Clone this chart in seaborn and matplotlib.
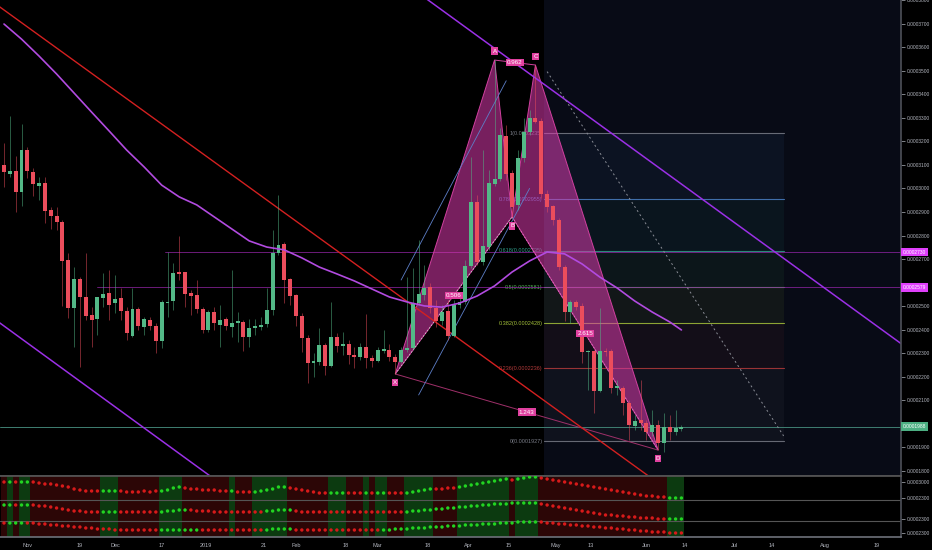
import matplotlib
matplotlib.use("Agg")
import numpy as np
import pandas as pd
import matplotlib.pyplot as plt
import matplotlib.dates as mdates
import matplotlib.transforms as mtransforms
from matplotlib.patches import Polygon, Rectangle
from matplotlib.ticker import FormatStrFormatter
import seaborn as sns

# ---------------- data ----------------
UNIT = 1e-7  # prices below are in units of 0.0000001
candle_start = "2018-10-24"
n_candles = 117   # 2-day candles

open_ = [3099,3061,3074,2985,3163,3070,3010,3023,2908,2883,
         2857,2696,2492,2615,2539,2463,2446,2535,2556,2513,
         2535,2479,2373,2488,2412,2441,2416,2352,2513,2522,
         2641,2645,2556,2547,2488,2399,2475,2420,2446,2412,
         2429,2433,2369,2407,2412,2424,2484,2726,2764,2615,
         2547,2458,2365,2259,2263,2335,2246,2369,2331,2339,
         2293,2284,2327,2280,2267,2310,2314,2284,2263,2314,
         2322,2513,2547,2581,2492,2437,2479,2373,2505,2518,
         2671,2942,2688,2751,3019,3040,3223,3065,2930,3129,
         3240,3299,3286,2976,2925,2866,2666,2475,2518,2501,
         2305,2310,2140,2310,2310,2153,2153,2089,1991,2017,
         2004,1966,1995,1919,1987,1966,1978]
high = [3193,3307,3138,3273,3176,3087,3048,3048,2921,2921,
        2866,2726,2666,2624,2726,2496,2539,2641,2654,2632,
        2577,2496,2577,2496,2454,2454,2429,2526,2730,2683,
        2798,2645,2569,2611,2496,2484,2496,2505,2454,2654,
        2475,2441,2446,2446,2454,2577,2823,2972,2772,2620,
        2552,2471,2378,2301,2407,2344,2518,2386,2390,2356,
        2327,2344,2467,2293,2327,2399,2339,2297,2327,2624,
        2662,2781,2675,2598,2526,2505,2526,2526,2547,2696,
        3133,2972,3163,3078,3545,3257,3269,3078,3163,3299,
        3333,3524,3299,2993,2930,2874,2675,2526,2526,2513,
        2314,2314,2492,2322,2318,2187,2161,2102,2038,2187,
        2017,2059,2017,2046,2038,2059,1995]
low = [3006,3048,2900,2925,3044,2968,2951,2853,2828,2823,
       2501,2450,2327,2242,2441,2327,2378,2496,2441,2471,
       2441,2356,2369,2399,2378,2399,2301,2322,2454,2484,
       2611,2496,2463,2471,2386,2390,2399,2327,2399,2369,
       2348,2310,2327,2378,2399,2412,2463,2717,2513,2505,
       2416,2305,2174,2199,2250,2208,2242,2305,2293,2255,
       2237,2271,2237,2242,2263,2301,2267,2212,2259,2305,
       2314,2505,2526,2471,2412,2420,2356,2369,2492,2509,
       2662,2675,2675,2739,3010,3031,3036,2879,2908,3112,
       3227,3278,2959,2900,2845,2654,2437,2429,2484,2259,
       2144,2046,2136,2288,2131,2123,2038,1932,1974,1974,
       1932,1949,1889,1881,1932,1953,1970]
close = [3070,3074,2985,3163,3074,3019,3023,2904,2883,2857,
         2692,2492,2615,2539,2458,2441,2539,2552,2505,2530,
         2479,2386,2488,2416,2446,2416,2352,2518,2518,2641,
         2637,2552,2543,2488,2399,2475,2429,2441,2416,2429,
         2433,2369,2407,2416,2420,2484,2726,2760,2611,2543,
         2458,2365,2259,2267,2335,2246,2369,2331,2339,2293,
         2284,2327,2280,2267,2314,2318,2284,2263,2314,2322,
         2513,2552,2577,2492,2437,2475,2373,2505,2518,2671,
         2942,2688,2755,3023,3040,3227,3061,2921,3129,3240,
         3299,3282,2976,2921,2866,2666,2475,2518,2496,2305,
         2310,2140,2310,2305,2153,2161,2089,1995,2012,2004,
         1966,1995,1919,1987,1966,1983,1988]

# moving average line (candle number, value)
ma_candle = [1,4,7,10,13,16,19,22,25,28,31,34,37,40,43,46,49,52,55,58,
             61,64,67,70,73,76,79,82,85,88,91,94,97,100,103,106,109,112,115,117]
ma_value = [3698,3634,3562,3486,3405,3324,3244,3163,3091,3014,2964,2930,2879,2828,
            2777,2751,2739,2705,2666,2637,2607,2573,2539,2518,2501,2496,2513,2543,
            2586,2645,2692,2730,2722,2679,2624,2577,2522,2475,2433,2399]

# harmonic pattern points
pattern_names = ["X", "A", "B", "C", "D"]
pattern_dates = ["2019-03-07", "2019-04-10", "2019-04-16", "2019-04-24", "2019-06-05"]
pattern_price = [2212, 3545, 2879, 3524, 1889]
ratio_pairs = [("X", "B", "0.506"), ("A", "C", "0.962"), ("B", "D", "2.615"), ("X", "D", "1.243")]

# fibonacci retracement
fib_start, fib_end = "2019-04-27", "2019-07-18"
fib_ratio = ["1", "0.786", "0.618", "0.5", "0.382", "0.236", "0"]
fib_price = [3235, 2955, 2735, 2581, 2428, 2236, 1927]
fib_color = ["#787b86", "#4a7ec4", "#2e9e8a", "#4caf50", "#a3bf3a", "#b23a3a", "#787b86"]

# trend lines (date, price)
red_line = (["2018-10-06", "2019-06-19"], [3919, 1624])
purple_upper = (["2019-03-15", "2019-08-30"], [3829, 2316])
purple_lower = (["2018-10-16", "2019-01-09"], [2488, 1721])
grey_dotted = (["2019-04-28", "2019-07-18"], [3496, 1949])
blue_line1 = (["2019-03-09", "2019-04-14"], [2611, 3457])
blue_line2 = (["2019-03-15", "2019-04-22"], [2123, 3000])

# horizontal levels
level_2730 = ("2018-12-18", 2730, "0.0002730")
level_2579 = ("2018-11-25", 2581, "0.0002579")
last_price = (1988, "0.0001988")
hidden_axis_labels = [2000, 2600]   # covered by the price tags

# indicator rows: dot level and state per candle
row1_level = [55,55,55,55,55,55,54,53,53,52,
              51,50,48,47,46,46,46,46,46,46,
              46,45,45,45,46,45,46,46,47,49,
              50,49,48,48,47,47,47,46,46,46,
              45,45,45,45,46,47,48,50,50,49,
              48,47,46,45,44,44,44,44,44,44,
              44,44,44,44,44,44,44,44,44,44,
              45,46,47,48,48,48,49,49,50,51,
              52,53,54,55,56,57,58,57,58,59,
              60,60,59,58,57,56,55,54,53,52,
              51,50,49,48,47,46,45,44,43,42,
              41,41,40,40,39,39,39]
row2_level = [32,32,32,32,32,32,31,31,30,29,
              28,27,26,26,25,25,25,25,25,25,
              25,25,25,25,25,25,25,25,26,26,
              27,27,27,26,26,26,25,25,25,25,
              25,25,25,25,25,26,26,27,27,27,
              26,25,25,25,25,25,25,25,25,25,
              25,25,25,25,25,25,25,25,25,25,
              26,26,27,27,28,28,29,29,30,30,
              31,31,32,32,33,33,33,34,34,34,
              34,34,33,32,31,30,29,28,27,26,
              25,24,23,22,22,21,21,20,20,19,
              19,19,18,18,18,18,18]
row3_level = [14,14,14,14,14,14,13,13,12,12,
              11,11,10,10,9,9,8,8,8,7,
              7,7,7,7,7,7,7,7,7,7,
              7,7,7,7,7,7,7,7,7,7,
              7,7,7,7,7,7,8,8,8,8,
              7,7,7,7,7,7,7,7,7,7,
              7,7,7,7,7,7,7,8,8,8,
              9,9,9,10,10,10,11,11,11,12,
              12,12,13,13,13,14,14,14,15,15,
              15,15,15,14,14,13,13,12,12,11,
              11,10,10,9,9,8,8,7,7,6,
              6,5,5,5,4,4,4]
row1_state = ("RGRGG" "RRRRRRRRRRRR" "GGG" "RRRRRRR" "GGGG" "RRRRRRRR" "G" "RRR"
              "GGGGGG" "RRRRRRR" "GGG" "RRR" "G" "R" "GG" "RRR" "GGGGG" "RRRR"
              "GGGGGGGGG" "R" "GGGG" "RRRRRRRRRRRRRRRRRRRRRR" "GGG")
row2_state = ("GGRGG" "RRRRRRRRRRRR" "GGG" "RRRRRRR" "GGGGG" "RRRRRRRRRRRRR" "GGGGG"
              "RRRRRRRRRRRRRRRRRRR" "GGGGGGGGGGGGGGGGGGGGGGG" "RRRRRRRRRRRRRRRRRRRRRR" "GGG")
row3_state = ("RGGGR" "RRRRRRRRRRRRRRRRRRRRRR" "GGGGGGG" "RRRRRRRRRRR" "GGGGG"
              "RRRRRRRRRRRRRRR" "GGGGGGGGGGGGGGGGGGGGGGGGGGG" "RRRRRRRRRRRRRRRRRRRRRRRRR")
indicator_labels = ([55, 39, 18, 4], ["0.0003000", "0.0002300", "0.0002300", "0.0002300"])

tick_dates = ["2018-11-01", "2018-11-19", "2018-12-01", "2018-12-17", "2019-01-01",
              "2019-01-21", "2019-02-01", "2019-02-18", "2019-03-01", "2019-03-18",
              "2019-04-01", "2019-04-15", "2019-05-01", "2019-05-13", "2019-06-01",
              "2019-06-14", "2019-07-01", "2019-07-14", "2019-08-01", "2019-08-19"]
tick_labels = ["Nov", "19", "Dec", "17", "2019", "21", "Feb", "18", "Mar", "18",
               "Apr", "15", "May", "13", "Jun", "14", "Jul", "14", "Aug", "19"]

# ---------------- style ----------------
BG = "#000000"
GREEN = "#53b987"
RED = "#eb4d5c"
TXT = "#b2b5be"
PINK = "#e0409f"

sns.set_theme(style="dark", rc={"axes.facecolor": BG, "figure.facecolor": BG,
                                "axes.edgecolor": "#3a3d45", "grid.color": BG})
plt.rcParams["font.family"] = ["Liberation Sans", "DejaVu Sans"]

fig = plt.figure(figsize=(9.32, 5.5), dpi=100, facecolor=BG)
ax = fig.add_axes([0, 74 / 550, 901 / 932, 476 / 550])
ax2 = fig.add_axes([0, 13 / 550, 901 / 932, 61 / 550], sharex=ax)

dates = pd.date_range(candle_start, periods=n_candles, freq="2D")
df = pd.DataFrame({"date": dates,
                   "open": np.array(open_) * UNIT, "high": np.array(high) * UNIT,
                   "low": np.array(low) * UNIT, "close": np.array(close) * UNIT})
df["x"] = mdates.date2num(df["date"])
x0 = mdates.date2num(pd.Timestamp(candle_start))
xlim = (x0 - 1.37, x0 + 307.2)
ylim = (1778.9 * UNIT, 3800 * UNIT)

def dnum(s):
    return mdates.date2num(pd.to_datetime(s))

# navy region right of fib start
ax.add_patch(Rectangle((dnum(fib_start), ylim[0]), xlim[1] - dnum(fib_start), ylim[1] - ylim[0],
                       facecolor="#080b16", edgecolor="none", zorder=0))
# fib bands & lines
fs, fe = dnum(fib_start), dnum(fib_end)
for i in range(len(fib_price) - 1):
    ax.add_patch(Rectangle((fs, fib_price[i + 1] * UNIT), fe - fs,
                           (fib_price[i] - fib_price[i + 1]) * UNIT,
                           facecolor=fib_color[i + 1], alpha=0.07, edgecolor="none", zorder=0.5))
for r, p, c in zip(fib_ratio, fib_price, fib_color):
    ax.plot([fs, fe], [p * UNIT, p * UNIT], color=c, lw=0.8, alpha=0.85, zorder=1)
    ax.text(fs - 0.5, p * UNIT, f"{r}(0.000{p:04d})", color=c, fontsize=4,
            ha="right", va="center", zorder=1)

# horizontal levels
for d, p, lab in [level_2730, level_2579]:
    ax.plot([dnum(d), xlim[1]], [p * UNIT, p * UNIT], color="#9c27b0", lw=0.6, alpha=0.8, zorder=1)
ax.axhline(last_price[0] * UNIT, color="#3f7f72", lw=0.7, zorder=1)

# harmonic pattern
pdn = {k: dnum(d) for k, d in zip(pattern_names, pattern_dates)}
ppr = {k: p * UNIT for k, p in zip(pattern_names, pattern_price)}
for tri in [("X", "A", "B"), ("B", "C", "D")]:
    ax.add_patch(Polygon([(pdn[k], ppr[k]) for k in tri], closed=True, facecolor="#da3aad",
                         alpha=0.55, edgecolor="none", zorder=2))
    ax.add_patch(Polygon([(pdn[k], ppr[k]) for k in tri], closed=True, fill=False,
                         edgecolor="#d0409f", lw=0.7, zorder=2.1))
ax.plot([pdn["X"], pdn["B"]], [ppr["X"], ppr["B"]], color="#c9c9c9", lw=0.6, ls=(0, (2, 2)), zorder=2.2)
ax.plot([pdn["B"], pdn["D"]], [ppr["B"], ppr["D"]], color="#e070c0", lw=0.6, ls=(0, (2, 2)), zorder=2.2)
ax.plot([pdn["A"], pdn["C"]], [ppr["A"], ppr["C"]], color="#d0409f", lw=0.7, zorder=2.2)
ax.plot([pdn["X"], pdn["D"]], [ppr["X"], ppr["D"]], color="#a0306a", lw=0.7, zorder=2.2)

# trend lines
for (dd, pp), col, lw, ls in [(red_line, "#d32020", 1.0, "-"), (purple_upper, "#9b30e6", 1.1, "-"),
                              (purple_lower, "#9b30e6", 1.1, "-"),
                              (grey_dotted, "#8a8d96", 0.7, (0, (2, 3))),
                              (blue_line1, "#5d7fc8", 0.6, "-"), (blue_line2, "#5d7fc8", 0.6, "-")]:
    ax.plot([dnum(d) for d in dd], [p * UNIT for p in pp], color=col, lw=lw, ls=ls, zorder=2.5)

# candles
up = df["close"] >= df["open"]
colors = np.where(up, GREEN, RED)
ax.vlines(df["x"], df["low"], df["high"], colors=colors, lw=0.7, alpha=0.5, zorder=3)
body_bot = np.minimum(df["open"], df["close"])
body_h = np.maximum((df["close"] - df["open"]).abs(), 6 * UNIT)
ax.bar(df["x"], body_h, bottom=body_bot, width=1.35, color=colors, lw=0, zorder=4)

# moving average (seaborn)
ma_df = pd.DataFrame({"x": df["x"].values[np.array(ma_candle) - 1],
                      "v": np.array(ma_value) * UNIT})
sns.lineplot(data=ma_df, x="x", y="v", ax=ax, color="#b24be0", lw=1.2, zorder=5)

# pattern labels
box = dict(boxstyle="square,pad=0.18", fc=PINK, ec="none")
offs = {"X": -6, "A": 6.5, "B": -6.5, "C": 6, "D": -6}
for k in pattern_names:
    ax.annotate(k, (pdn[k], ppr[k]), xytext=(0, offs[k]), textcoords="offset points",
                ha="center", va="center", fontsize=4.5, color="white", bbox=box, zorder=7)
for a, b, lab in ratio_pairs:
    ax.text((pdn[a] + pdn[b]) / 2, (ppr[a] + ppr[b]) / 2, lab, ha="center", va="center",
            fontsize=4.5, color="white", bbox=box, zorder=7)

# right axis
ax.set_xlim(*xlim)
ax.set_ylim(*ylim)
ax.yaxis.tick_right()
yt = [v for v in range(1800, 3801, 100) if v not in hidden_axis_labels]
ax.set_yticks(np.array(yt) * UNIT)
ax.yaxis.set_major_formatter(FormatStrFormatter("%.7f"))
ax.tick_params(axis="y", colors=TXT, labelsize=3.5, length=3, pad=1.2, width=0.5)
ax.tick_params(axis="x", bottom=False, labelbottom=False)
ax.set_xlabel("")
ax.set_ylabel("")
for s in ["left", "top"]:
    ax.spines[s].set_visible(False)
ax.spines["right"].set_color("#4a4d55")
ax.spines["bottom"].set_color("#3a3d45")
ax.grid(False)

blend = mtransforms.blended_transform_factory(ax.transAxes, ax.transData)
for p, lab, fc in [(level_2730[1], level_2730[2], "#e040fb"), (level_2579[1], level_2579[2], "#e040fb"),
                   (last_price[0], last_price[1], "#4caf82")]:
    ax.text(1.002, p * UNIT, lab, transform=blend, ha="left", va="center", fontsize=3.5,
            color="white", bbox=dict(boxstyle="square,pad=0.4", fc=fc, ec="none"), zorder=8,
            clip_on=False)

# ---------------- indicator panel ----------------
ax2.set_ylim(0, 61)
bg_cols = ["#0c3a10" if s == "G" else "#2c0606" for s in row1_state]
ax2.bar(df["x"], 61, bottom=0, width=2.0, color=bg_cols, lw=0, zorder=0)
ind = pd.concat([
    pd.DataFrame({"x": df["x"], "v": lvl, "state": list(st)})
    for lvl, st in [(row1_level, row1_state), (row2_level, row2_state), (row3_level, row3_state)]
])
sns.scatterplot(data=ind, x="x", y="v", hue="state", palette={"G": "#22d422", "R": "#d81a1a"},
                s=6, linewidth=0, legend=False, ax=ax2, zorder=3)
for lv in [37, 16]:
    ax2.axhline(lv, color="#555555", lw=0.8, zorder=2)
ax2.yaxis.tick_right()
ax2.set_yticks(indicator_labels[0])
ax2.set_yticklabels(indicator_labels[1])
ax2.tick_params(axis="y", colors=TXT, labelsize=3.5, length=3, pad=1.2, width=0.5)
ax2.set_xticks([dnum(d) for d in tick_dates])
ax2.set_xticklabels(tick_labels)
ax2.tick_params(axis="x", colors=TXT, labelsize=4, length=0, pad=4)
ax2.set_xlim(*xlim)
ax2.set_xlabel("")
ax2.set_ylabel("")
ax2.spines["left"].set_visible(False)
ax2.spines["top"].set_color("#555555")
ax2.spines["right"].set_color("#4a4d55")
ax2.spines["bottom"].set_color("#6a6d75")
ax2.grid(False)

fig.savefig("out.png", dpi=100, facecolor=BG)
